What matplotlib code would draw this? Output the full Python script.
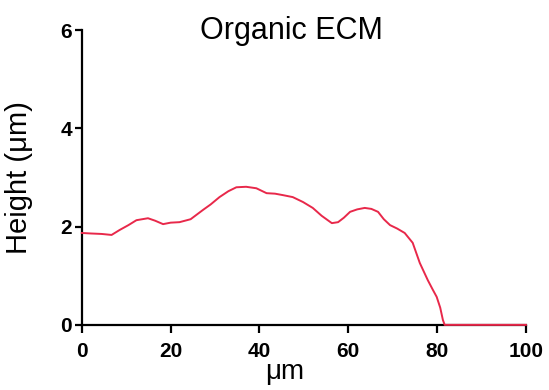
import matplotlib.pyplot as plt
import numpy as np

plt.rcParams['font.family'] = ['Liberation Sans', 'DejaVu Sans']

# perfil de altura (um) a lo largo de la distancia (um)
distance = [0, 2, 4.5, 6.7, 8.5, 10.5, 12.3, 14.9, 16.5, 18.3, 20, 22, 24.5,
            27.3, 29, 31, 33, 34.8, 37, 39.3, 41.6, 43.5, 45.3, 47.5, 49.8,
            52, 54, 56.3, 57.7, 59, 60.4, 62, 63.7, 65.2, 66.7, 68, 69.4,
            71, 72.7, 74.5, 76.1, 77.9, 79, 79.9, 80.7, 81.3, 81.7, 85, 90,
            95, 100]
height = [1.87, 1.86, 1.85, 1.83, 1.93, 2.03, 2.13, 2.17, 2.12, 2.05, 2.08,
          2.09, 2.15, 2.34, 2.45, 2.6, 2.72, 2.8, 2.81, 2.78, 2.68, 2.67,
          2.64, 2.6, 2.5, 2.38, 2.22, 2.07, 2.09, 2.18, 2.3, 2.35, 2.38,
          2.36, 2.3, 2.15, 2.03, 1.96, 1.87, 1.67, 1.26, 0.91, 0.72, 0.57,
          0.35, 0.1, 0.0, 0.0, 0.0, 0.0, 0.0]

fig = plt.figure(figsize=(5.49, 3.9), dpi=100)
ax = fig.add_axes([0.149, 0.167, 0.809, 0.756])
ax.plot(distance, height, color='#e8284a', lw=1.4, zorder=5, clip_on=False)

ax.set_xlim(0, 100)
ax.set_ylim(0, 6)
ax.set_xticks(range(0, 101, 20))
ax.set_yticks(range(0, 7, 2))
for s in ['top', 'right']:
    ax.spines[s].set_visible(False)
for s in ['left', 'bottom']:
    ax.spines[s].set_linewidth(1.6)
ax.tick_params(width=1.6, length=5, labelsize=15, pad=2)
ax.tick_params(axis='x', length=6, pad=6)
for lbl in ax.get_xticklabels() + ax.get_yticklabels():
    lbl.set_fontweight('bold')

ax.set_xlabel('μm', fontsize=20)
ax.xaxis.set_label_coords(0.457, -0.115, transform=ax.transAxes)
ax.xaxis.label.set_va('top')
ax.set_ylabel('Height (μm)', fontsize=21)
ax.yaxis.set_label_coords(-0.141, 0.5)
ax.yaxis.label.set_va('center')
fig.text(291 / 549, 1 - 31 / 390, 'Organic ECM', fontsize=22,
         ha='center', va='center')

fig.savefig('out.png', dpi=100)
